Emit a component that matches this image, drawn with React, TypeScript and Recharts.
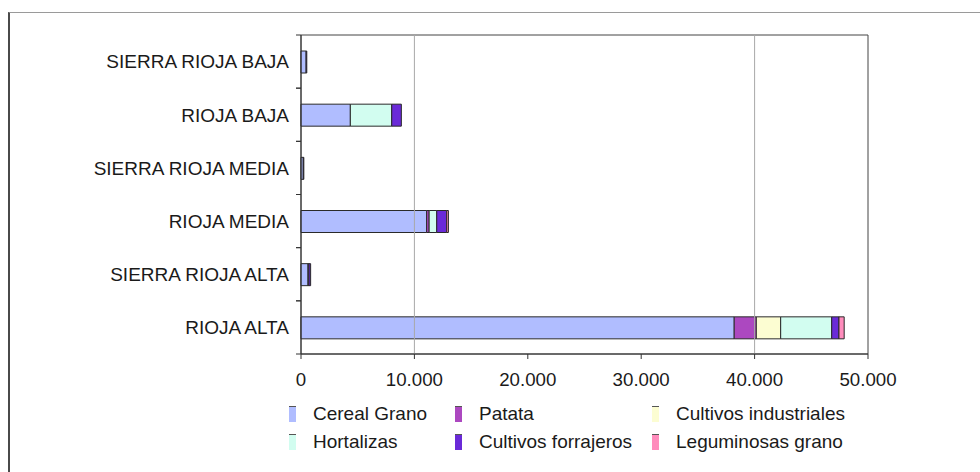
import { BarChart, Bar, XAxis, YAxis, ReferenceLine, ReferenceArea } from "recharts";

const regions = [
  "SIERRA RIOJA BAJA",
  "RIOJA BAJA",
  "SIERRA RIOJA MEDIA",
  "RIOJA MEDIA",
  "SIERRA RIOJA ALTA",
  "RIOJA ALTA",
];
const cerealGrano = [450, 4350, 200, 11080, 620, 38200];
const patata = [0, 0, 0, 220, 80, 1950];
const cultivosIndustriales = [0, 0, 0, 0, 0, 2150];
const hortalizas = [0, 3650, 0, 670, 0, 4500];
const cultivosForrajeros = [60, 850, 50, 880, 150, 640];
const leguminosasGrano = [0, 0, 0, 150, 0, 460];

const xTicks = [0, 10000, 20000, 30000, 40000, 50000];
const gridAt = [10000, 40000];

const SERIES = [
  { key: "cereal", name: "Cereal Grano", color: "#b0bdff", values: cerealGrano },
  { key: "patata", name: "Patata", color: "#ac48c0", values: patata },
  { key: "industriales", name: "Cultivos industriales", color: "#fcfdd2", values: cultivosIndustriales },
  { key: "hortalizas", name: "Hortalizas", color: "#d2fdf0", values: hortalizas },
  { key: "forrajeros", name: "Cultivos forrajeros", color: "#6a2ad8", values: cultivosForrajeros },
  { key: "leguminosas", name: "Leguminosas grano", color: "#ff8cbc", values: leguminosasGrano },
];

// legend is laid out column-first: 3 columns x 2 rows
const LEGEND_ORDER = [
  ["cereal", "hortalizas"],
  ["patata", "forrajeros"],
  ["industriales", "leguminosas"],
];

const FONT = '"Liberation Sans", Arial, sans-serif';
const TOP = 35;
const BOTTOM = 354;
const BAND = (BOTTOM - TOP) / regions.length;

const data = regions.map((r, i) => {
  const row: Record<string, string | number> = { region: r };
  SERIES.forEach((s) => (row[s.key] = s.values[i]));
  return row;
});

const fmt = (v: number) => String(v).replace(/\B(?=(\d{3})+(?!\d))/g, ".");

function RegionTick(props: any) {
  const { y, payload } = props;
  return (
    <g>
      <text
        x={289}
        y={y}
        dy="0.36em"
        textAnchor="end"
        fontSize={19}
        fontFamily={FONT}
        fill="#1a1a1a"
      >
        {payload.value}
      </text>
      <line x1={296} x2={301} y1={y + BAND / 2} y2={y + BAND / 2} stroke="#333" />
      <line x1={296} x2={301} y1={y - BAND / 2} y2={y - BAND / 2} stroke="#333" />
    </g>
  );
}

export default function App() {
  return (
    <div
      style={{
        position: "fixed",
        left: 0,
        top: 0,
        width: 980,
        height: 472,
        background: "#fff",
        overflow: "hidden",
      }}
    >
      <div
        style={{
          position: "absolute",
          left: 8,
          top: 12,
          width: 1100,
          height: 600,
          borderLeft: "2px solid #4a4a4a",
          borderTop: "1px solid #9a9a9a",
        }}
      />
      <div style={{ position: "absolute", left: 0, top: 0 }}>
        <BarChart
          width={980}
          height={472}
          data={data}
          layout="vertical"
          barSize={22}
          margin={{ top: TOP, right: 112, left: 0, bottom: 78 }}
        >
          <XAxis
            type="number"
            domain={[0, 50000]}
            ticks={xTicks}
            tickFormatter={fmt}
            height={40}
            tickSize={5}
            tickMargin={14}
            stroke="#333"
            tick={{ fontSize: 18.7, fontFamily: FONT, fill: "#1a1a1a" }}
          />
          <YAxis
            type="category"
            dataKey="region"
            width={301}
            tickLine={false}
            stroke="#333"
            tick={<RegionTick />}
          />
          <ReferenceArea
            x1={0}
            x2={50000}
            fill="none"
            fillOpacity={0}
            stroke="#444"
            strokeWidth={1}
          />
          {gridAt.map((g) => (
            <ReferenceLine key={g} x={g} stroke="#a8a8a8" strokeWidth={1} />
          ))}
          {SERIES.map((s) => (
            <Bar
              key={s.key}
              dataKey={s.key}
              name={s.name}
              stackId="a"
              fill={s.color}
              stroke="#2a2a2a"
              strokeWidth={1}
              isAnimationActive={false}
            />
          ))}
        </BarChart>
      </div>
      <div
        style={{
          position: "absolute",
          left: 289,
          top: 400,
          display: "flex",
          fontFamily: FONT,
          fontSize: 19,
          color: "#1a1a1a",
        }}
      >
        {LEGEND_ORDER.map((col, ci) => (
          <div key={ci} style={{ width: [166, 197, 220][ci] }}>
            {col.map((k) => {
              const s = SERIES.find((x) => x.key === k)!;
              return (
                <div
                  key={k}
                  style={{ display: "flex", alignItems: "center", height: 28 }}
                >
                  <span
                    style={{
                      display: "inline-block",
                      width: 7,
                      height: 15,
                      background: s.color,
                      borderTop: "1px solid #555",
                      marginRight: 17,
                    }}
                  />
                  <span>{s.name}</span>
                </div>
              );
            })}
          </div>
        ))}
      </div>
    </div>
  );
}
